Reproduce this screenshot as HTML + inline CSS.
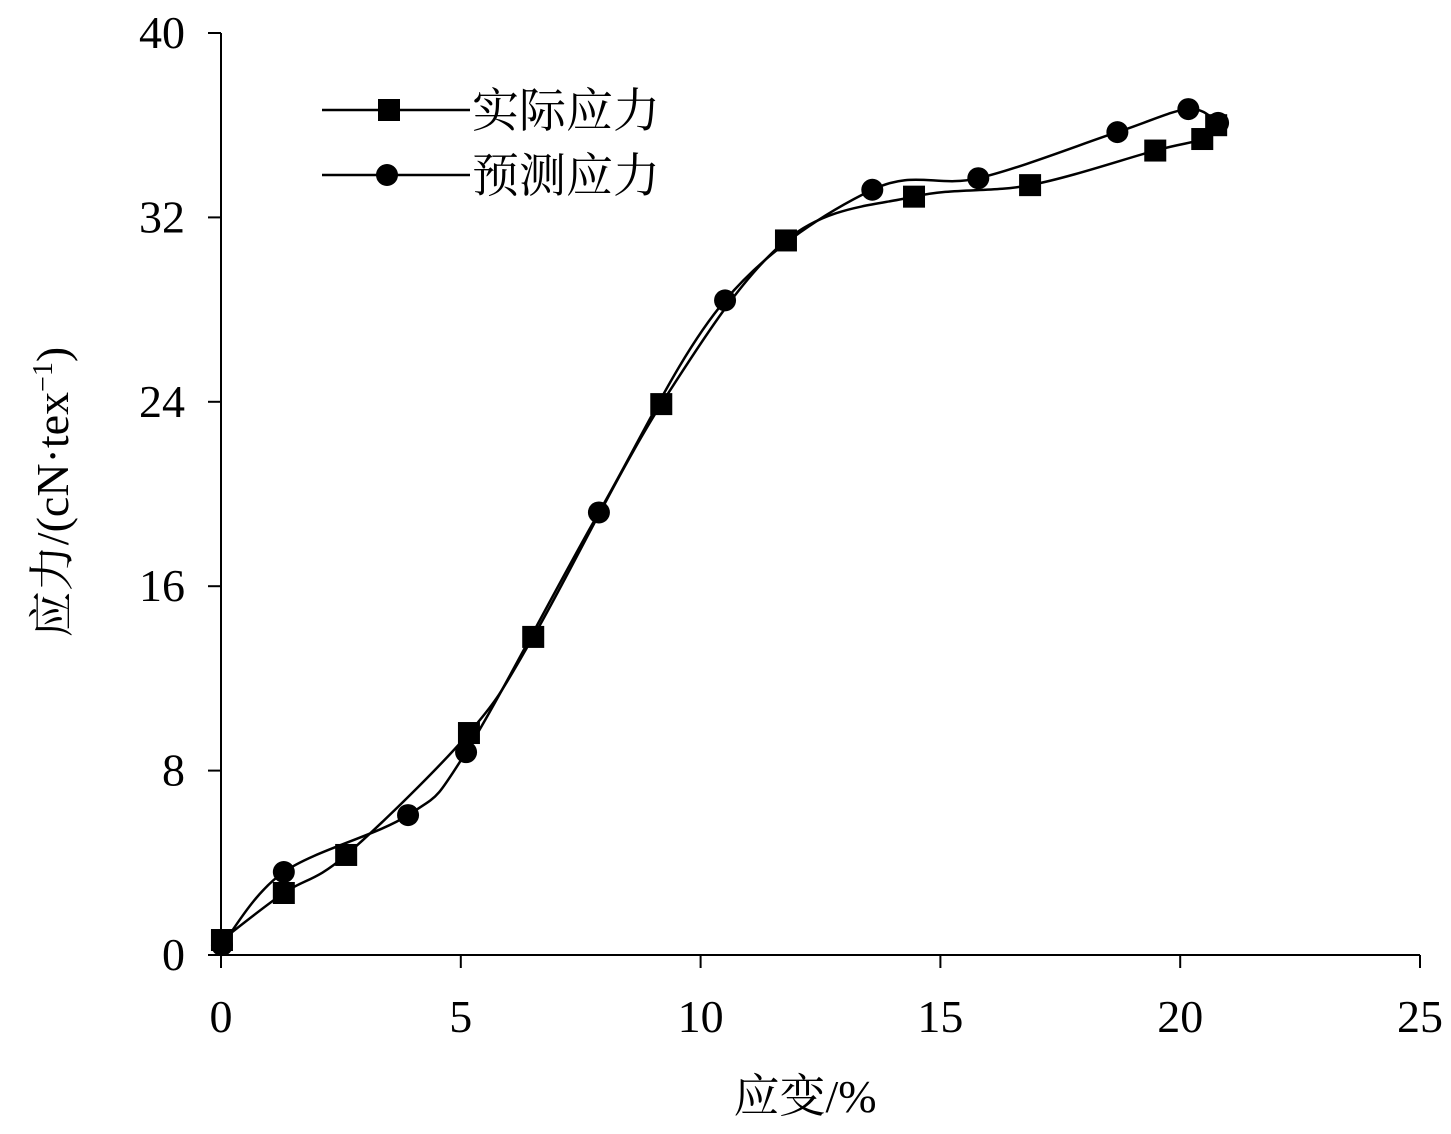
<!DOCTYPE html>
<html><head><meta charset="utf-8"><style>
body{margin:0;background:#fff}
svg text{font-family:"Liberation Serif","Noto Serif CJK SC","Noto Sans CJK SC",serif;fill:#000}
</style></head><body>
<svg id="chart" width="1451" height="1129" viewBox="0 0 1451 1129" xmlns="http://www.w3.org/2000/svg">
<g id="axes"></g>
<g id="series"></g>
<g id="legend">
  <line x1="322" y1="110" x2="470" y2="110" stroke="#000" stroke-width="2.5"/>
  <rect x="378" y="99" width="22" height="22" fill="#000"/>
  <text x="472" y="127" font-size="47">实际应力</text>
  <line x1="322" y1="175" x2="470" y2="175" stroke="#000" stroke-width="2.5"/>
  <circle cx="387" cy="175" r="11" fill="#000"/>
  <text x="472" y="192" font-size="47">预测应力</text>
</g>
<text x="805" y="1112" font-size="46" text-anchor="middle">应变/%</text>
<text transform="translate(68,492) rotate(-90)" font-size="46" text-anchor="middle">应力/(cN·tex<tspan dy="-16" font-size="28">−1</tspan><tspan dy="16">)</tspan></text>
</svg>
<script>
const xTicks=[0,5,10,15,20,25];
const yTicks=[0,8,16,24,32,40];
const actualX=[0.02,1.31,2.61,5.17,6.51,9.18,11.78,14.45,16.87,19.48,20.46,20.75];
const actualY=[0.65,2.69,4.34,9.63,13.8,23.9,31.0,32.9,33.4,34.9,35.4,36.0];
const predX=[0.02,1.31,3.9,5.11,7.88,10.51,13.58,15.79,18.69,20.17,20.79];
const predY=[0.43,3.6,6.07,8.8,19.2,28.4,33.2,33.7,35.7,36.7,36.1];
const NS="http://www.w3.org/2000/svg";
const X0=221,X1=1420,Y0=955,Y1=33;
const sx=v=>X0+(X1-X0)*v/25, sy=v=>Y0-(Y0-Y1)*v/40;
const axes=document.getElementById('axes'), ser=document.getElementById('series');
function mk(tag,attrs,parent){const e=document.createElementNS(NS,tag);for(const k in attrs)e.setAttribute(k,attrs[k]);parent.appendChild(e);return e;}
let a=mk('line',{x1:X0,y1:Y0,x2:X1,y2:Y0,stroke:'#000','stroke-width':2},axes);


a=mk('line',{x1:X0,y1:Y0,x2:X0,y2:Y1,stroke:'#000','stroke-width':2},axes);


xTicks.forEach(t=>{
  const l=mk('line',{x1:sx(t),y1:Y0,x2:sx(t),y2:Y0+13,stroke:'#000','stroke-width':2},axes);
  
  
  const tx=mk('text',{x:sx(t),y:1032,'font-size':46,'text-anchor':'middle'},axes);
  tx.textContent=t;
  
  
});
yTicks.forEach(t=>{
  const l=mk('line',{x1:X0-13,y1:sy(t),x2:X0,y2:sy(t),stroke:'#000','stroke-width':2},axes);
  
  
  const tx=mk('text',{x:185,y:sy(t)+15,'font-size':46,'text-anchor':'end'},axes);
  tx.textContent=t;
  
  
});
function spline(xs,ys){
  const p=xs.map((x,i)=>[sx(x),sy(ys[i])]);
  let d='M'+p[0][0]+','+p[0][1];
  for(let i=0;i<p.length-1;i++){
    const p0=p[Math.max(i-1,0)],p1=p[i],p2=p[i+1],p3=p[Math.min(i+2,p.length-1)];
    const c1=[p1[0]+(p2[0]-p0[0])/6,p1[1]+(p2[1]-p0[1])/6];
    const c2=[p2[0]-(p3[0]-p1[0])/6,p2[1]-(p3[1]-p1[1])/6];
    d+=' C'+c1+' '+c2+' '+p2;
  }
  return d;
}
let pa=mk('path',{d:spline(actualX,actualY),fill:'none',stroke:'#000','stroke-width':2.5},ser);


let pp=mk('path',{d:spline(predX,predY),fill:'none',stroke:'#000','stroke-width':2.5},ser);


actualX.forEach((x,i)=>{
  const r=mk('rect',{x:sx(x)-11,y:sy(actualY[i])-11,width:22,height:22,fill:'#000'},ser);
  
  
});
predX.forEach((x,i)=>{
  const c=mk('circle',{cx:sx(x),cy:sy(predY[i]),r:11,fill:'#000'},ser);
  
  
});
</script>
</body></html>
